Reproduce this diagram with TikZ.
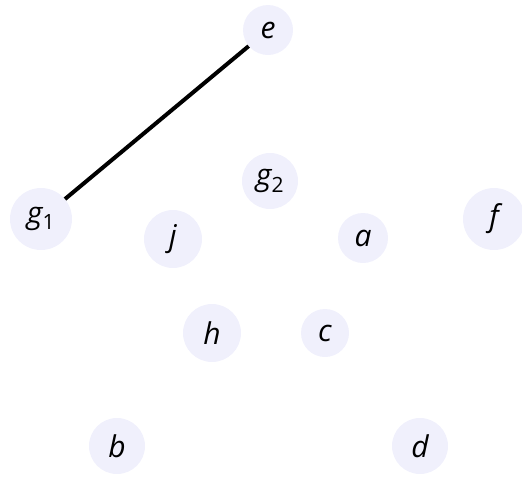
\documentclass[tikz,border=0pt]{standalone}
\usepackage{fontspec}
\setmainfont{Open Sans}
\begin{document}
\begin{tikzpicture}[x=1pt,y=-1pt,
  vnode/.style={circle,fill=nodefill,draw=none,inner sep=0pt,minimum size=#1*2pt,font=\fontsize{30}{32}\selectfont\itshape},
  edge/.style={line width=4pt,black}]
\definecolor{nodefill}{RGB}{240,240,252}
\useasboundingbox (0,0) rectangle (522,477);
\clip (0,0) rectangle (522,477);
\node[vnode=25] (e) at (268,30) {e};
\node[vnode=31] (g1) at (41,219) {g\textsubscript{\upshape 1}};
\node[vnode=28] (g2) at (270,181) {g\textsubscript{\upshape 2}};
\node[vnode=29] (j) at (173,239) {j};
\node[vnode=25] (a) at (363,238) {a};
\node[vnode=31] (f) at (494,219) {f};
\node[vnode=29] (h) at (212,333) {h};
\node[vnode=24] (c) at (325,333) {c};
\node[vnode=28] (b) at (117,446) {b};
\node[vnode=28] (d) at (420,446) {d};
\draw[edge] (e) -- (g1);
\end{tikzpicture}
\end{document}
